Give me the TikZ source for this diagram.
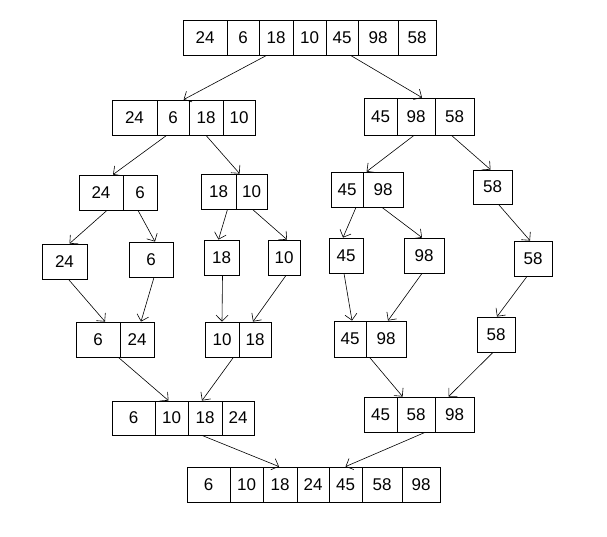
\documentclass[tikz,border=0pt]{standalone}
\usepackage{fontspec}
\setmainfont{Liberation Sans}
\usepackage{tikz}
\usetikzlibrary{arrows.meta}
\tikzstyle{cell}=[rectangle,draw,line width=0.8pt,inner sep=0pt,font=\fontsize{17}{20}\selectfont]
\tikzstyle{edge} = [draw,line width=0.6pt,-{Straight Barb[length=6pt,width=12pt]}]
\begin{document}
\begin{tikzpicture}[x=1pt,y=-1pt]
    \useasboundingbox (0,0) rectangle (607,537);

    % the arrays, cell by cell
    \foreach \xa/\xb/\ya/\yb/\name/\val in {
        183/227/20/55/a1/24, 227/259/20/55/a2/6, 259/293/20/55/a3/18, 293/326/20/55/a4/10,
        326/358/20/55/a5/45, 358/398/20/55/a6/98, 398/436/20/55/a7/58,
        112/157/100/135/b1/24, 157/189/100/135/b2/6, 189/223/100/135/b3/18, 223/255/100/135/b4/10,
        364/397/98/135/c1/45, 397/435/98/135/c2/98, 435/474/98/135/c3/58,
        79/123/175/210/d1/24, 123/157/175/210/d2/6,
        201/236/174/209/e1/18, 236/267/174/209/e2/10,
        331/363/172/207/f1/45, 363/403/172/207/f2/98,
        473/512/170/204/g1/58,
        42/87/244/279/h/24, 129/173/242/277/i/6, 204/239/240/275/j/18, 268/300/240/275/k/10,
        329/363/238/273/l/45, 404/444/238/273/m/98, 514/552/241/276/n/58,
        76/120/322/357/o1/6, 120/154/322/357/o2/24,
        205/239/322/357/p1/10, 239/271/322/357/p2/18,
        334/366/321/357/q1/45, 366/406/321/357/q2/98,
        477/515/317/352/r/58,
        112/155/401/435/s1/6, 155/188/401/435/s2/10, 188/222/401/435/s3/18, 222/254/401/435/s4/24,
        364/397/397/432/u1/45, 397/435/397/432/u2/58, 435/474/397/432/u3/98,
        187/230/467/502/v1/6, 230/263/467/502/v2/10, 263/297/467/502/v3/18, 297/329/467/502/v4/24,
        329/362/467/502/v5/45, 362/402/467/502/v6/58, 402/440/467/502/v7/98}
        \node[cell,minimum width={(\xb-\xa)*1pt},minimum height={(\yb-\ya)*1pt}] (\name)
            at ({(\xa+\xb)/2},{(\ya+\yb)/2}) {\val};

    % split and merge arrows
    \foreach \s/\sa/\sx/\d/\da/\dx in {
        a3/south west/8/b3/north west/-5, a5/south west/25/c2/north/6,
        b2/south west/10/d1/north/12, b3/south/0/e2/north west/4,
        c2/south/-2/f2/north west/4, c3/south/-3/g1/north/-2,
        d1/south/6/h/north/5, d2/south/-2/i/north/4,
        e1/south/9/j/north/-3, e2/south/1/k/north/3,
        f1/south/9/l/north/-3, f2/south/-1/m/north/-2,
        g1/south/6/n/north/-3,
        h/south/4/o1/north/7, i/south/3/o2/north/4,
        j/south/1/p1/north/0, k/south/2/p2/north/-2,
        l/south/-2/q1/north/2, m/south/-2/q2/north/2,
        n/south/-6/r/north/1,
        o1/south east/-2/s2/north/-3, p1/south east/-6/s3/north/-3,
        q2/south west/4/u2/north west/6, r/south/-3/u3/north/-6,
        s3/south/-3/v3/north/-1, u2/south/9/v5/north/0}
            \path[edge] ([xshift=\sx pt]\s.\sa) -- ([xshift=\dx pt]\d.\da);

\end{tikzpicture}
\end{document}
